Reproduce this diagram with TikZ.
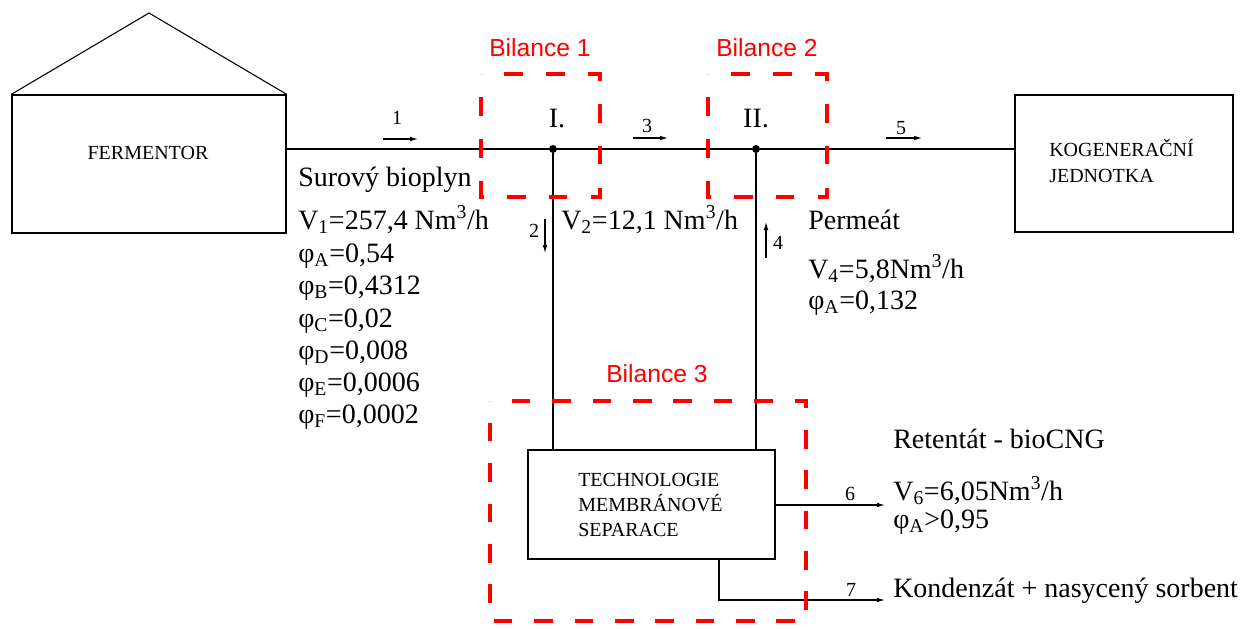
\documentclass[tikz,border=0pt]{standalone}
\usepackage{fontspec}
\setmainfont{Liberation Serif}
\newfontfamily\redsans{Liberation Sans}
\usetikzlibrary{arrows.meta,decorations}
\begin{document}
\begin{tikzpicture}[x=0.75pt,y=-0.75pt,
  line/.style={line width=0.9pt},
  blockbox/.style={draw, line width=1pt, inner sep=0pt},
  dot/.style={circle, fill=black, inner sep=0pt, minimum size=6pt},
  flow/.style={line width=0.8pt, -{Latex[length=6pt,width=3.5pt]}},
  outarrow/.style={line width=0.9pt, -{Latex[length=6pt,width=3.5pt]}},
  bal/.style={draw=red, line width=2.4pt, dash pattern=on 14pt off 16pt, dash expand off},
  baltext/.style={text=red, font=\redsans\fontsize{18.5}{22}\selectfont, anchor=base},
  small/.style={font=\fontsize{15}{19}\selectfont},
  big/.style={font=\fontsize{21}{25}\selectfont, anchor=base west, inner sep=0pt},
  num/.style={font=\fontsize{15}{18}\selectfont, inner sep=0pt}
]
\useasboundingbox (0,0) rectangle (1245,628);

% blocks
\node[blockbox, minimum width=205.5pt, minimum height=103.5pt] (ferm) at (149,164) {};
\draw[line width=0.8pt] (ferm.north west) -- (149,13) -- (ferm.north east);
\node[small, anchor=center] (fermtxt) at (148,153) {FERMENTOR};

\node[blockbox, minimum width=163.5pt, minimum height=102.75pt] (kog) at (1124,163.5) {};
\node[small, anchor=west, align=left, inner sep=0pt] (kogtxt) at (1049,161) {KOGENERAČNÍ\\JEDNOTKA};

\node[blockbox, minimum width=185.25pt, minimum height=81.75pt] (tech) at (651.5,504.5) {};
\node[small, anchor=west, align=left, inner sep=0pt, font=\fontsize{15}{19}\selectfont] (techtxt) at (578,505) {TECHNOLOGIE\\MEMBRÁNOVÉ\\SEPARACE};

% junctions
\node[dot] (J1) at (553,149) {};
\node[dot] (J2) at (756,149) {};

% main lines
\draw[line] (ferm.east |- J1) -- (J1) -- (J2) -- (kog.west |- J2);
\draw[line] (J1) -- (J1 |- tech.north);
\draw[line] (J2) -- (J2 |- tech.north);
\coordinate (o6) at (885,505);
\draw[outarrow] (tech.east |- o6) -- (o6);
\coordinate (c7) at (719,600);
\coordinate (o7) at (885,600);
\draw[outarrow] (tech.south -| c7) -- (c7) -- (o7);

% flow arrows
\coordinate (a1s) at (383,139); \coordinate (a1e) at (418,139);
\draw[flow] (a1s) -- (a1e);
\node[num] (n1) at (397,118) {1};
\coordinate (a3s) at (633,138); \coordinate (a3e) at (668,138);
\draw[flow] (a3s) -- (a3e);
\node[num] (n3) at (647,126) {3};
\coordinate (a5s) at (886,138); \coordinate (a5e) at (922,138);
\draw[flow] (a5s) -- (a5e);
\node[num] (n5) at (901,128) {5};
\coordinate (a2s) at (545,219); \coordinate (a2e) at (545,253);
\draw[flow] (a2s) -- (a2e);
\node[num] (n2) at (534,231) {2};
\coordinate (a4s) at (766,258); \coordinate (a4e) at (766,222);
\draw[flow] (a4s) -- (a4e);
\node[num] (n4) at (778,243) {4};
\node[num] (n6) at (850,494) {6};
\node[num] (n7) at (851,590) {7};

% junction labels
\node[font=\fontsize{21}{24}\selectfont, anchor=base, inner sep=0pt] (L1) at (557,127) {I.};
\node[font=\fontsize{21}{24}\selectfont, anchor=base, inner sep=0pt] (L2) at (756,127) {II.};

% balance boxes
\draw[bal] (481,74) -- (600,74) -- (600,197) -- (481,197) -- cycle;
\draw[bal] (708,74) -- (827,74) -- (827,197) -- (708,197) -- cycle;
\draw[bal] (490,401) -- (806,401) -- (806,621) -- (490,621) -- cycle;
\node[baltext] (b1) at (540,56) {Bilance 1};
\node[baltext] (b2) at (767,56) {Bilance 2};
\node[baltext] (b3) at (657,382) {Bilance 3};

% stream data
\node[big] (s1) at (298,186) {Surový bioplyn};
\node[big] (s1v) at (298,229) {V\textsubscript{1}=257,4 Nm\textsuperscript{3}/h};
\node[big] (s1a) at (298,262) {φ\textsubscript{A}=0,54};
\node[big] (s1b) at (298,294) {φ\textsubscript{B}=0,4312};
\node[big] (s1c) at (298,327) {φ\textsubscript{C}=0,02};
\node[big] (s1d) at (298,359) {φ\textsubscript{D}=0,008};
\node[big] (s1e) at (298,391) {φ\textsubscript{E}=0,0006};
\node[big] (s1f) at (298,423) {φ\textsubscript{F}=0,0002};

\node[big] (s2v) at (561,229) {V\textsubscript{2}=12,1 Nm\textsuperscript{3}/h};

\node[big] (s4) at (808,229) {Permeát};
\node[big] (s4v) at (808,278) {V\textsubscript{4}=5,8Nm\textsuperscript{3}/h};
\node[big] (s4a) at (808,309) {φ\textsubscript{A}=0,132};

\node[big] (s6) at (893,448) {Retentát - bioCNG};
\node[big] (s6v) at (893,500) {V\textsubscript{6}=6,05Nm\textsuperscript{3}/h};
\node[big] (s6a) at (893,528) {φ\textsubscript{A}>0,95};
\node[big] (s7) at (893,597) {Kondenzát + nasycený sorbent};
\end{tikzpicture}
\end{document}
